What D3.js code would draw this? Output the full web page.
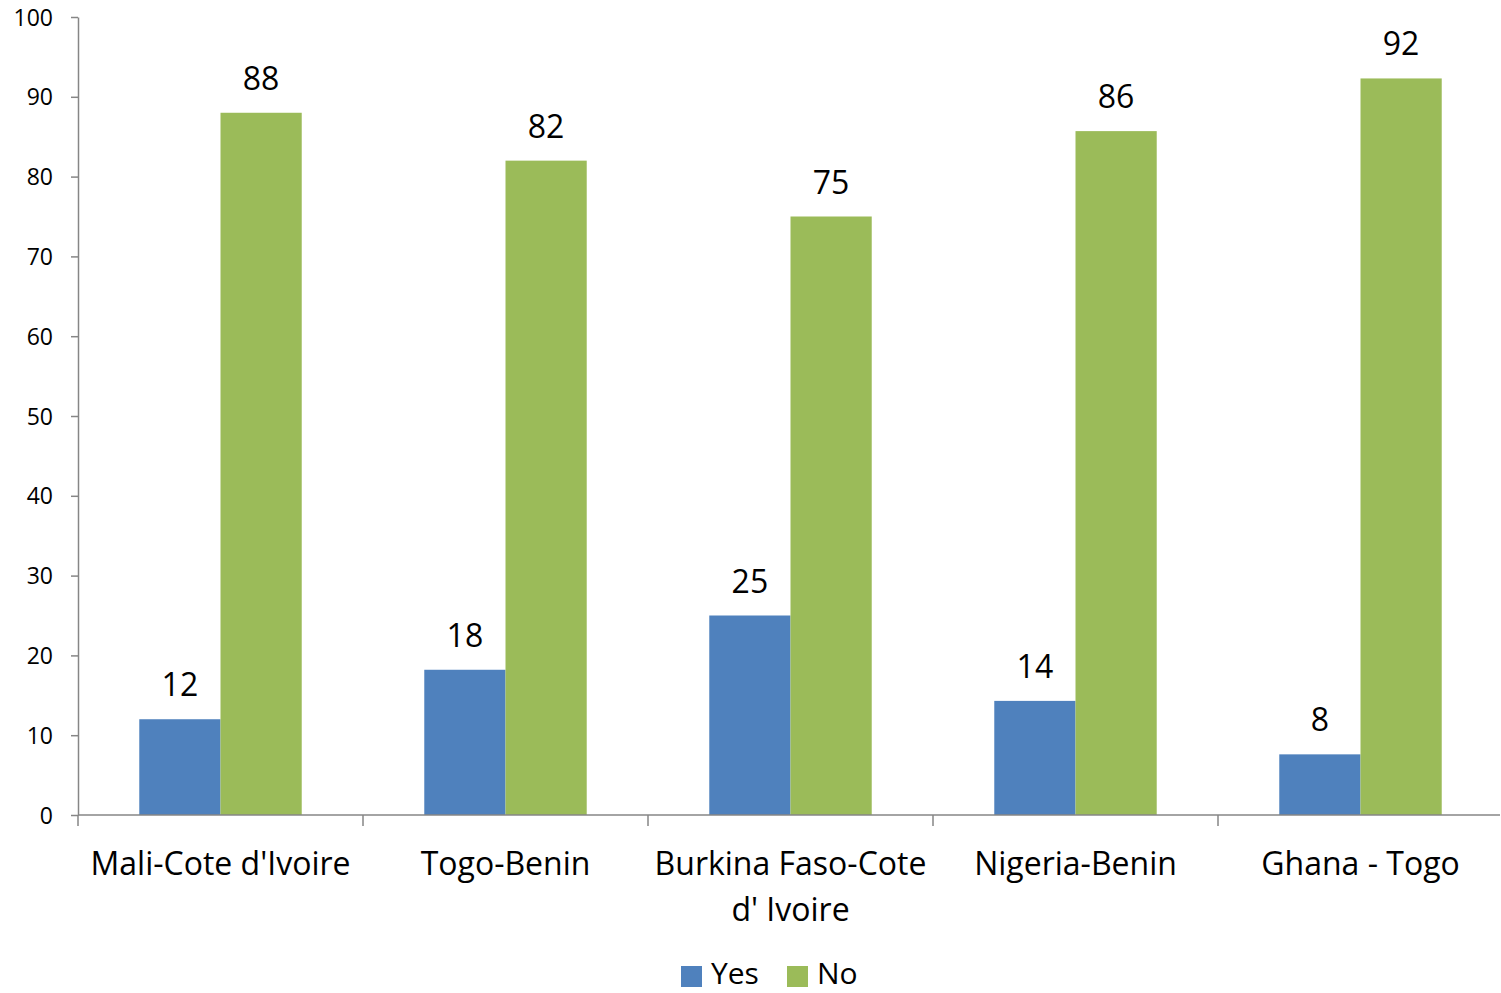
<!DOCTYPE html>
<html><head><meta charset="utf-8">
<script src="https://cdn.jsdelivr.net/npm/d3@7"></script>
<style>body{margin:0;background:#fff}svg{display:block}text{font-family:"Open Sans",sans-serif;fill:#000}</style>
</head><body><svg id="c" width="1501" height="993"></svg>
<script>
const categories = ["Mali-Cote d'Ivoire","Togo-Benin","Burkina Faso-Cote d' Ivoire","Nigeria-Benin","Ghana - Togo"];
const categoryLines = [["Mali-Cote d'Ivoire"],["Togo-Benin"],["Burkina Faso-Cote","d' Ivoire"],["Nigeria-Benin"],["Ghana - Togo"]];
const series = ["Yes","No"];
const yesValues = [12, 18.2, 25, 14.3, 7.6];
const noValues = [88, 82, 75, 85.7, 92.3];
const yTicks = [0,10,20,30,40,50,60,70,80,90,100];
const colors = ["#4F81BD","#9BBB59"];

const svg = d3.select("#c");
const mLeft = 78, mRight = 1503, mTop = 17, mBottom = 815;
const x0 = d3.scaleBand().domain(categories).range([mLeft,mRight]).paddingInner(0.43).paddingOuter(0.215);
const x1 = d3.scaleBand().domain(series).range([0,x0.bandwidth()]);
const y = d3.scaleLinear().domain([0,100]).range([mBottom,mTop]);
const color = d3.scaleOrdinal().domain(series).range(colors);
const data = categories.map((c,i)=>({cat:c, vals:[{s:"Yes",v:yesValues[i]},{s:"No",v:noValues[i]}]}));

// y axis
const ya = svg.append("g").attr("transform",`translate(${mLeft},0)`).call(d3.axisLeft(y).tickValues(yTicks).tickSize(7).tickSizeOuter(0));
ya.select(".domain").attr("stroke","#868686").attr("stroke-width",1.5);
ya.selectAll(".tick line").attr("stroke","#868686").attr("stroke-width",1.5);
ya.selectAll(".tick text").attr("x",-25).style("font-size","23px").attr("dy","0.35em").style("fill","#000");

// bars
const g = svg.append("g");
const grp = g.selectAll("g").data(data).join("g").attr("transform",d=>`translate(${x0(d.cat)},0)`);
grp.selectAll("rect").data(d=>d.vals).join("rect")
  .attr("x",d=>x1(d.s)).attr("width",x1.bandwidth())
  .attr("y",d=>y(d.v)).attr("height",d=>y(0)-y(d.v)).attr("fill",d=>color(d.s));
grp.selectAll("text.lbl").data(d=>d.vals).join("text").attr("class","lbl")
  .attr("x",d=>x1(d.s)+x1.bandwidth()/2).attr("y",d=>y(d.v)-23)
  .attr("text-anchor","middle").style("font-size","32px").text(d=>Math.round(d.v));

// x axis
const step = x0.step();
svg.append("line").attr("x1",mLeft).attr("x2",1500).attr("y1",mBottom).attr("y2",mBottom).attr("stroke","#868686").attr("stroke-width",1.5);
const bounds = categories.map(c=>x0(c)-step*x0.paddingInner()/2);
svg.selectAll("line.xt").data(bounds).join("line").attr("class","xt")
  .attr("x1",d=>d).attr("x2",d=>d).attr("y1",mBottom).attr("y2",mBottom+11).attr("stroke","#868686").attr("stroke-width",1.5);
const xl = svg.selectAll("text.xl").data(categories).join("text").attr("class","xl")
  .attr("text-anchor","middle").style("font-size","32px")
  .attr("transform",d=>`translate(${x0(d)+x0.bandwidth()/2},875)`);
xl.selectAll("tspan").data((d,i)=>categoryLines[i]).join("tspan").attr("x",0).attr("dy",(d,i)=>i?46:0).text(d=>d);

// legend
const lg = svg.append("g");
const lx = [681,787];
series.forEach((s,i)=>{
  lg.append("rect").attr("x",lx[i]).attr("y",966).attr("width",21).attr("height",21).attr("fill",color(s));
  lg.append("text").attr("x",lx[i]+30).attr("y",984).style("font-size","30px").text(s);
});
</script></body></html>
